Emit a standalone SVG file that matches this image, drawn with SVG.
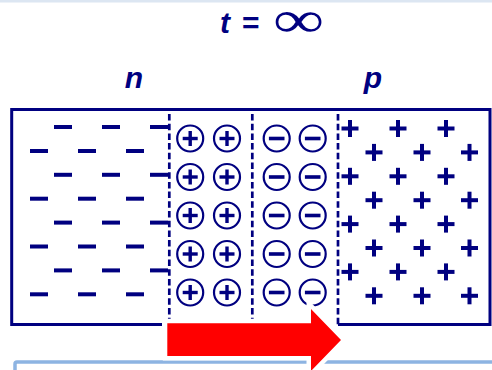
<svg xmlns="http://www.w3.org/2000/svg" width="492" height="370" viewBox="0 0 492 370">
<defs>
<style>
.lbl{font-family:"Liberation Sans",Arial,sans-serif;font-weight:bold;font-style:italic;fill:#000080}
.box{fill:none;stroke:#000080;stroke-width:3}
.dash{stroke:#000080;stroke-width:2.7;stroke-dasharray:6.5 3.2;fill:none}
.ring{fill:#fff;stroke:#000080;stroke-width:2.2}
.chg{fill:#000080}
</style>
<g id="mn"><rect x="-9" y="-2" width="18" height="4"/></g>
<g id="pl"><rect x="-8.5" y="-2" width="17" height="4"/><rect x="-2" y="-8.5" width="4" height="17"/></g>
<g id="ionp"><circle r="13" class="ring"/><rect x="-7.5" y="-1.7" width="15" height="3.4" class="chg"/><rect x="-1.7" y="-7.5" width="3.4" height="15" class="chg"/></g>
<g id="ionm"><circle r="13" class="ring"/><rect x="-7.8" y="-1.8" width="15.6" height="3.6" class="chg"/></g>
</defs>
<rect width="492" height="370" fill="#fff"/>
<rect x="0" y="0" width="492" height="2.5" fill="#dce6f2"/>

<g id="title">
<text class="lbl" x="220" y="33" font-size="30">t</text>
<text x="242" y="33" font-size="30" font-family="Liberation Sans,Arial,sans-serif" font-weight="bold" fill="#000080">=</text>
<text x="0" y="0" transform="translate(273,37) scale(1.38,1)" font-size="52" font-family="Liberation Serif,serif" fill="#000080">∞</text>
</g>
<g id="label-n"><text class="lbl" x="134" y="88" font-size="30" text-anchor="middle">n</text></g>
<g id="label-p"><text class="lbl" x="373" y="88" font-size="30" text-anchor="middle">p</text></g>

<g id="bottom-panel">
<path d="M15,372 V364 Q15,362 17,362 H494" fill="none" stroke="#8db4e2" stroke-width="3.5"/>
</g>

<g id="semiconductor">
<path class="box" d="M162,324.5 H11.7 V109.5 H490 V324.5 H338"/>
</g>

<g id="connectors">
<line class="dash" x1="169.3" y1="114" x2="169.3" y2="319"/>
<line class="dash" x1="252.3" y1="114" x2="252.3" y2="319"/>
<line class="dash" x1="338" y1="114" x2="338" y2="324.5"/>
</g>

<g id="n-region" class="chg">
<use href="#mn" x="63" y="127"/><use href="#mn" x="111" y="127"/><use href="#mn" x="159" y="127"/>
<use href="#mn" x="39" y="151"/><use href="#mn" x="87" y="151"/><use href="#mn" x="135" y="151"/>
<use href="#mn" x="63" y="174.8"/><use href="#mn" x="111" y="174.8"/><use href="#mn" x="159" y="174.8"/>
<use href="#mn" x="39" y="198.7"/><use href="#mn" x="87" y="198.7"/><use href="#mn" x="135" y="198.7"/>
<use href="#mn" x="63" y="222.6"/><use href="#mn" x="111" y="222.6"/><use href="#mn" x="159" y="222.6"/>
<use href="#mn" x="39" y="246.5"/><use href="#mn" x="87" y="246.5"/><use href="#mn" x="135" y="246.5"/>
<use href="#mn" x="63" y="270.4"/><use href="#mn" x="111" y="270.4"/><use href="#mn" x="159" y="270.4"/>
<use href="#mn" x="39" y="294.3"/><use href="#mn" x="87" y="294.3"/><use href="#mn" x="135" y="294.3"/>
</g>

<g id="p-region" class="chg">
<use href="#pl" x="350" y="128.5"/><use href="#pl" x="398" y="128.5"/><use href="#pl" x="446" y="128.5"/>
<use href="#pl" x="374" y="152.4"/><use href="#pl" x="422" y="152.4"/><use href="#pl" x="469.5" y="152.4"/>
<use href="#pl" x="350" y="176.3"/><use href="#pl" x="398" y="176.3"/><use href="#pl" x="446" y="176.3"/>
<use href="#pl" x="374" y="200.2"/><use href="#pl" x="422" y="200.2"/><use href="#pl" x="469.5" y="200.2"/>
<use href="#pl" x="350" y="224.1"/><use href="#pl" x="398" y="224.1"/><use href="#pl" x="446" y="224.1"/>
<use href="#pl" x="374" y="248"/><use href="#pl" x="422" y="248"/><use href="#pl" x="469.5" y="248"/>
<use href="#pl" x="350" y="271.9"/><use href="#pl" x="398" y="271.9"/><use href="#pl" x="446" y="271.9"/>
<use href="#pl" x="374" y="295.8"/><use href="#pl" x="422" y="295.8"/><use href="#pl" x="469.5" y="295.8"/>
</g>

<g id="depletion-positive">
<use href="#ionp" x="190.2" y="138.5"/><use href="#ionp" x="227" y="138.5"/>
<use href="#ionp" x="190.2" y="177"/><use href="#ionp" x="227" y="177"/>
<use href="#ionp" x="190.2" y="215.5"/><use href="#ionp" x="227" y="215.5"/>
<use href="#ionp" x="190.2" y="254"/><use href="#ionp" x="227" y="254"/>
<use href="#ionp" x="190.2" y="292.5"/><use href="#ionp" x="227" y="292.5"/>
</g>

<g id="depletion-negative">
<use href="#ionm" x="276.7" y="138.5"/><use href="#ionm" x="312.7" y="138.5"/>
<use href="#ionm" x="276.7" y="177"/><use href="#ionm" x="312.7" y="177"/>
<use href="#ionm" x="276.7" y="215.5"/><use href="#ionm" x="312.7" y="215.5"/>
<use href="#ionm" x="276.7" y="254"/><use href="#ionm" x="312.7" y="254"/>
<use href="#ionm" x="276.7" y="292.5"/><use href="#ionm" x="312.7" y="292.5"/>
</g>

<g id="field-arrow">
<path d="M167.3,323.3 H311 V309 L341,340 L311,371 V356 H167.3 Z" fill="#ff0000" stroke="#fff" stroke-width="9" stroke-linejoin="miter" paint-order="stroke"/>
</g>
</svg>
